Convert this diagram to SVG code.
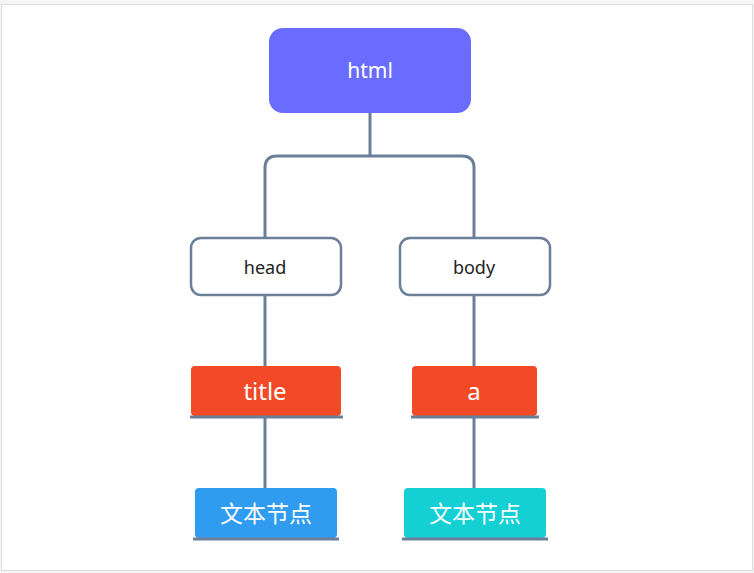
<svg xmlns="http://www.w3.org/2000/svg" width="754" height="573" viewBox="0 0 754 573">
<style>
.conn{fill:none;stroke:#6b7f99;stroke-width:3;stroke-linecap:butt}
.under{stroke:#6b7f99;stroke-width:3}
.t{font-family:"Noto Sans","Noto Sans CJK SC",sans-serif;text-anchor:middle;dominant-baseline:central}
.w{fill:#ffffff}
.outline{fill:#ffffff;stroke:#6b7f99;stroke-width:2.5}
</style>
<rect x="0" y="0" width="754" height="573" fill="#f5f5f5"/>
<rect x="1.5" y="4.5" width="751" height="566" fill="#ffffff" stroke="#dddddd" stroke-width="1"/>
<g id="connectors">
<path class="conn" d="M370 113 V156"/>
<path class="conn" d="M265 238 V168 Q265 156 277 156 H462 Q474 156 474 168 V238"/>
<path class="conn" d="M265 295 V366"/>
<path class="conn" d="M474 295 V366"/>
<path class="conn" d="M265 417 V488"/>
<path class="conn" d="M474 417 V488"/>
</g>
<g id="html">
<rect x="269" y="28" width="202" height="85" rx="14" fill="#6a6cff"/>
<text class="t w" x="370" y="70" font-size="21">html</text>
</g>
<g id="head">
<rect class="outline" x="191" y="238" width="150" height="57" rx="10"/>
<text class="t" x="265" y="267" font-size="18" fill="#222">head</text>
</g>
<g id="body">
<rect class="outline" x="400" y="238" width="150" height="57" rx="10"/>
<text class="t" x="474" y="267" font-size="18" fill="#222">body</text>
</g>
<g id="title">
<rect x="191" y="366" width="150" height="50" rx="4" fill="#f24a27"/>
<line class="under" x1="190" y1="417" x2="343" y2="417"/>
<text class="t w" x="265" y="390" font-size="24">title</text>
</g>
<g id="a">
<rect x="412" y="366" width="125" height="50" rx="4" fill="#f24a27"/>
<line class="under" x1="411" y1="417" x2="539" y2="417"/>
<text class="t w" x="474" y="390" font-size="24">a</text>
</g>
<g id="text1">
<rect x="195" y="488" width="142" height="50" rx="4" fill="#309cf0"/>
<line class="under" x1="193" y1="539" x2="339" y2="539"/>
<text class="t w" x="266" y="513" font-size="23">文本节点</text>
</g>
<g id="text2">
<rect x="404" y="488" width="142" height="50" rx="4" fill="#14cfd4"/>
<line class="under" x1="402" y1="539" x2="548" y2="539"/>
<text class="t w" x="475" y="513" font-size="23">文本节点</text>
</g>
</svg>
